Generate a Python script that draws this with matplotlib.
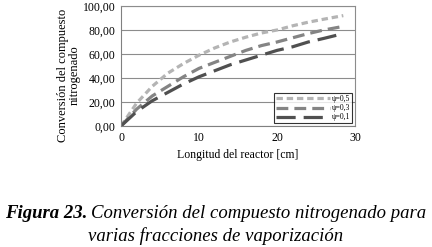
import matplotlib
matplotlib.use("Agg")
from matplotlib import pyplot as plt

# Data
longitud = [0, 2, 4, 6, 8, 10, 12, 14, 16, 18, 20, 22, 24, 26, 28.5]
conv_05 = [0, 19, 33, 44, 52, 59, 65, 70, 74, 77.5, 80, 83.5, 86.5, 89, 92]
conv_03 = [0, 14, 25, 33, 41, 48, 53, 58, 63, 67, 70, 73.5, 77, 80, 83]
conv_01 = [0, 12, 21, 28, 35, 41, 46, 51, 55, 59, 63, 66, 70, 73, 77]
etiquetas = ["ψ=0,5", "ψ=0,3", "ψ=0,1"]
yticks = [0, 20, 40, 60, 80, 100]
xticks = [0, 10, 20, 30]

plt.rcParams['font.family'] = ['Liberation Serif', 'DejaVu Serif']

fig = plt.figure(figsize=(4.32, 2.47), dpi=100)
ax = fig.add_axes([121 / 432, 1 - 126 / 247, (355 - 121) / 432, (126 - 6) / 247])

ax.plot(longitud, conv_05, color='#b4b4b4', lw=2.3, dashes=(2.0, 1.2), label=etiquetas[0])
ax.plot(longitud, conv_03, color='#848484', lw=2.3, dashes=(3.7, 1.9), label=etiquetas[1])
ax.plot(longitud, conv_01, color='#505050', lw=2.3, dashes=(6.0, 2.5), label=etiquetas[2])

ax.set_xlim(0, 30)
ax.set_ylim(0, 100)
ax.set_xticks(xticks)
ax.set_yticks(yticks)
ax.set_yticklabels(["%d,00" % v for v in yticks])
ax.tick_params(length=0, labelsize=8.5, pad=4, colors='black')
ax.yaxis.grid(True, color='#8c8c8c', lw=0.8)
ax.set_axisbelow(True)
for s in ['top', 'right']:
    ax.spines[s].set_color('#8c8c8c')
    ax.spines[s].set_linewidth(0.8)
ax.spines['left'].set_color('#808080')
ax.spines['bottom'].set_color('#808080')

ax.set_xlabel("Longitud del reactor [cm]", fontsize=8.5, labelpad=4)
ax.set_ylabel("Conversión del compuesto\nnitrogenado", fontsize=9, linespacing=0.95)
ax.yaxis.set_label_coords(-0.172, 0.42)

leg = ax.legend(loc='lower right', fontsize=5.5, frameon=True, fancybox=False,
                edgecolor='black', handlelength=7, borderpad=0.25, labelspacing=0.15,
                handletextpad=0.3, borderaxespad=0.35)
leg.get_frame().set_linewidth(0.8)

t1 = fig.text(5 / 432, 1 - 213 / 247, "Figura 23.", fontsize=13.5, style='italic',
              weight='bold', va='center', ha='left')
fig.canvas.draw()
bb = t1.get_window_extent()
fig.text((bb.x1 + 4) / 432, 1 - 213 / 247, "Conversión del compuesto nitrogenado para",
         fontsize=13.5, style='italic', va='center', ha='left')
fig.text(0.5, 1 - 236 / 247, "varias fracciones de vaporización",
         fontsize=13.5, style='italic', va='center', ha='center')

fig.savefig("out.png", dpi=100)
